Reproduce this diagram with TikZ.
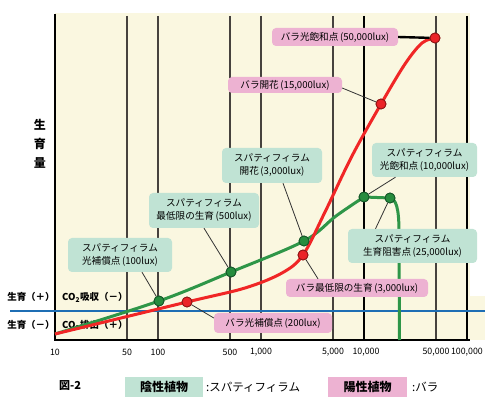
\documentclass[tikz,border=0pt]{standalone}
\usepackage{fontspec}
\setmainfont{Noto Sans CJK JP}
\usetikzlibrary{calc}
\definecolor{bgy}{RGB}{250,247,224}
\definecolor{gbox}{RGB}{192,227,212}
\definecolor{pbox}{RGB}{237,178,210}
\definecolor{gcurve}{RGB}{46,150,72}
\definecolor{gdotc}{RGB}{38,140,62}
\definecolor{gdotb}{RGB}{20,85,40}
\definecolor{rcurve}{RGB}{240,38,38}
\definecolor{rdotc}{RGB}{235,35,40}
\definecolor{rdotb}{RGB}{140,20,20}
\definecolor{bline}{RGB}{30,110,180}
\definecolor{gridg}{RGB}{70,66,62}
\begin{document}
\begin{tikzpicture}[x=1pt,y=-1pt,
  gridl/.style={draw=gridg,line width=1.7pt},
  gridk/.style={draw=black,line width=2.6pt},
  tick/.style={font=\fontsize{8.8}{9}\selectfont,inner sep=0pt},
  lab/.style={rounded corners=4pt,inner sep=1pt,align=center,font=\fontsize{9.6}{13}\selectfont},
  glab/.style={lab,fill=gbox},
  plab/.style={lab,fill=pbox},
  gdot/.style={circle,fill=gdotc,draw=gdotb,line width=0.8pt,minimum size=10pt,inner sep=0pt},
  rdot/.style={circle,fill=rdotc,draw=rdotb,line width=0.8pt,minimum size=10pt,inner sep=0pt},
  leader/.style={draw=black!80,line width=0.8pt},
  side/.style={font=\fontsize{9.5}{10}\selectfont\bfseries,inner sep=0pt}
]
\useasboundingbox (0,0) rectangle (485,398);
\fill[white] (0,0) rectangle (485,398);
% background
\fill[bgy] (55,13) rectangle (470,340);
\fill[bgy] (470,296) rectangle (485,340);
% grid
\foreach \x in {127,158,230,261,333,436} \draw[gridl] (\x,16) -- (\x,340);
\foreach \x in {364,467} \draw[gridk] (\x,16) -- (\x,340);
\draw[black,line width=2.8pt] (55,14) -- (55,340);
\draw[black,line width=2pt] (54,340) -- (470,340);
% blue line
\draw[bline,line width=2.8pt] (10,311) -- (485,311);
% tick labels
\node[tick] (t10) at (55,352) {10};
\node[tick] (t50) at (127,352) {50};
\node[tick] (t100) at (158,352) {100};
\node[tick] (t500) at (230,352) {500};
\node[tick] (t1k) at (261,352) {1,000};
\node[tick] (t5k) at (333,352) {5,000};
\node[tick] (t10k) at (366,352) {10,000};
\node[tick] (t50k) at (436,352) {50,000};
\node[tick,anchor=east] (t100k) at (483,352) {100,000};
% y label
\node[font=\fontsize{12}{19}\selectfont\bfseries,align=center,inner sep=0pt] (ylab) at (40,144) {生\\育\\量};
% side labels
\node[side] (sp) at (31,297) {生育（＋）};
\node[side,anchor=west] (cp) at (62,297) {CO\textsubscript{2}吸収（－）};
\node[side] (sm) at (31,325) {生育（－）};
\node[side,anchor=west] (cm) at (62,325) {CO\textsubscript{2}排出（＋）};
% green curve
\draw[gcurve,line width=3pt,line join=round] plot[smooth,tension=0.55] coordinates
  {(55,334) (159,301) (231,272) (304,241) (336,216) (364,197)}
  -- (390,198) .. controls (396,199) and (399,208) .. (399,232) -- (399.5,340);
% red curve
\draw[rcurve,line width=3pt] plot[smooth,tension=0.55] coordinates
  {(55,334) (187,302) (245,288) (282,273) (303,255) (325,212) (352,156) (381,104) (405,64) (422,43) (435,38)};
% labels
\node[glab,minimum width=104pt,minimum height=34pt] (lg100) at (120,255) {スパティフィラム\\光補償点\,(100lux)};
\node[glab,minimum width=110pt,minimum height=35pt] (lg500) at (204,210.5) {スパティフィラム\\最低限の生育\,(500lux)};
\node[glab,minimum width=100pt,minimum height=35pt] (lg3k) at (272,165.5) {スパティフィラム\\開花\,(3,000lux)};
\node[glab,minimum width=105pt,minimum height=34pt] (lg10k) at (424.5,160) {スパティフィラム\\光飽和点\,(10,000lux)};
\node[glab,minimum width=129pt,minimum height=34pt] (lg25k) at (412.5,246) {スパティフィラム\\生育阻害点\,(25,000lux)};
\node[plab,minimum width=118pt,minimum height=20pt] (lp200) at (273,323) {バラ光補償点\,(200lux)};
\node[plab,minimum width=142pt,minimum height=18pt] (lp3k) at (357,288) {バラ最低限の生育\,(3,000lux)};
\node[plab,minimum width=114pt,minimum height=16pt] (lp15k) at (285,85) {バラ開花\,(15,000lux)};
\node[plab,minimum width=126pt,minimum height=18pt] (lp50k) at (335,37) {バラ光飽和点\,(50,000lux)};
% points
\node[gdot] (g100) at (159,301) {};
\node[gdot] (g500) at (231,272) {};
\node[gdot] (g3k) at (304,241) {};
\node[gdot] (g10k) at (364,197) {};
\node[gdot] (g25k) at (390,198) {};
\node[rdot] (r200) at (187,302) {};
\node[rdot] (r3k) at (303,255) {};
\node[rdot] (r15k) at (381,104) {};
\node[rdot] (r50k) at (435,38) {};
% leaders
\draw[leader] ([xshift=22pt]lg100.south) -- (g100);
\draw[leader] (lg500.south) -- (g500);
\draw[leader] ([xshift=11pt]lg3k.south) -- (g3k);
\draw[leader] ([xshift=-29pt]lg10k.south) -- (g10k);
\draw[leader] ([xshift=-37pt]lg25k.north) -- (g25k);
\draw[leader] ([yshift=5pt]lp200.west) -- (r200);
\draw[leader] ([xshift=-39pt]lp3k.north) -- (r3k);
\draw[leader] ([yshift=-3pt]lp15k.east) -- (r15k);
\draw[black,line width=2.4pt] (lp50k.east) -- (r50k);
% redraw points on top
\node[gdot] at (g100) {};
\node[gdot] at (g500) {};
\node[gdot] at (g3k) {};
\node[gdot] at (g10k) {};
\node[gdot] at (g25k) {};
\node[rdot] at (r200) {};
\node[rdot] at (r3k) {};
\node[rdot] at (r15k) {};
\node[rdot] at (r50k) {};
% legend
\node[font=\fontsize{11}{12}\selectfont\bfseries,inner sep=0pt] (fig) at (70,386) {図-2};
\node[fill=gbox,minimum width=78pt,minimum height=20pt,inner sep=0pt,font=\fontsize{12}{13}\selectfont\bfseries] (lgg) at (164,387) {陰性植物};
\node[anchor=west,inner sep=0pt,font=\fontsize{11.5}{13}\selectfont] (lggt) at (206,387) {:スパティフィラム};
\node[fill=pbox,minimum width=79pt,minimum height=20pt,inner sep=0pt,font=\fontsize{12}{13}\selectfont\bfseries] (lgp) at (367.5,387) {陽性植物};
\node[anchor=west,inner sep=0pt,font=\fontsize{11.5}{13}\selectfont] (lgpt) at (412,387) {:バラ};
\end{tikzpicture}
\end{document}
